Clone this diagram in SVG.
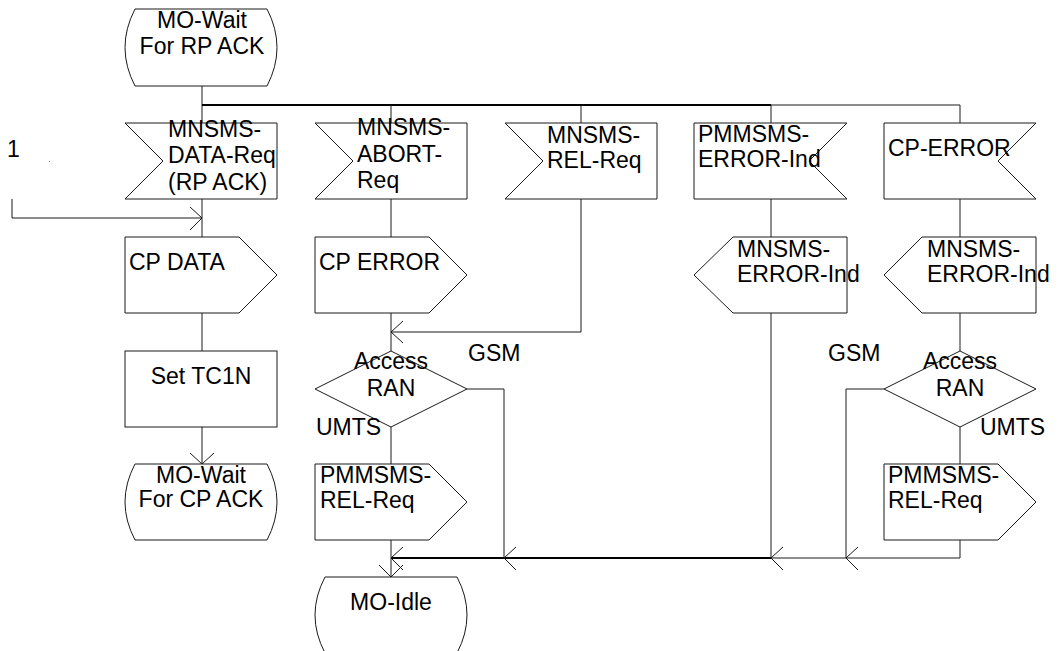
<svg xmlns="http://www.w3.org/2000/svg" width="1059" height="651" viewBox="0 0 1059 651">
<style>
.s{fill:#fff;stroke:#1a1a1a;stroke-width:1}
.c{fill:none;stroke:#1a1a1a;stroke-width:1}
.b{fill:none;stroke:#000;stroke-width:2}
.a{fill:none;stroke:#1a1a1a;stroke-width:1}
text{font-family:"Liberation Sans",Arial,sans-serif;font-size:23px;fill:#000}
.m{text-anchor:middle}
</style>
<rect width="1059" height="651" fill="#fff"/>
<g id="connectors">
<path class="c" d="M202,86V123"/>
<path class="b" d="M202,105H771"/>
<path class="c" d="M771,105H960V123"/>
<path class="c" d="M391,105V123M581,105V123M771,105V123"/>
<path class="c" d="M12,199V218H202"/>
<path class="c" d="M202,199V237M202,313V351M202,427V464"/>
<path class="c" d="M391,199V237M391,313V351M391,427V464M391,540V577"/>
<path class="c" d="M581,199V332H391"/>
<path class="c" d="M467,389H504V558"/>
<path class="b" d="M391,558H771"/>
<path class="c" d="M771,558H960V540"/>
<path class="c" d="M771,199V237M771,313V558"/>
<path class="c" d="M960,199V237M960,313V351M960,427V464"/>
<path class="c" d="M884,389H846V558"/>
<path class="a" d="M190,207L202,218L190,230"/>
<path class="a" d="M190,453L202,464L214,453"/>
<path class="a" d="M403,321L391,332L403,343"/>
<path class="a" d="M403,547L391,558L403,570"/>
<path class="a" d="M379,565L391,577L403,565"/>
<path class="a" d="M516,547L504,558L516,570"/>
<path class="a" d="M783,547L771,558L783,570"/>
<path class="a" d="M858,547L846,558L858,570"/>
</g>
<g id="state-wait-rp">
<path class="s" d="M135,9H267Q287,47.5 267,86H135Q115,47.5 135,9Z"/>
<text class="m" x="202" y="28">MO-Wait</text>
<text class="m" x="202" y="54">For RP ACK</text>
</g>
<g id="label-1"><text x="7" y="157">1</text><rect x="49" y="161" width="1" height="1" fill="#888"/></g>
<g id="in-data-req">
<polygon class="s" points="125,123 277,123 277,199 125,199 163,161"/>
<text x="168" y="137">MNSMS-</text>
<text x="168" y="163">DATA-Req</text>
<text x="168" y="190">(RP ACK)</text>
</g>
<g id="in-abort-req">
<polygon class="s" points="315,123 467,123 467,199 315,199 353,161"/>
<text x="357" y="135">MNSMS-</text>
<text x="357" y="162">ABORT-</text>
<text x="357" y="188">Req</text>
</g>
<g id="in-rel-req">
<polygon class="s" points="505,123 657,123 657,199 505,199 543,161"/>
<text x="547" y="143">MNSMS-</text>
<text x="547" y="168">REL-Req</text>
</g>
<g id="in-pmm-error">
<polygon class="s" points="694,123 847,123 809,161 847,199 694,199"/>
<text x="698" y="142">PMMSMS-</text>
<text x="698" y="167">ERROR-Ind</text>
</g>
<g id="in-cp-error">
<polygon class="s" points="884,123 1036,123 998,161 1036,199 884,199"/>
<text x="888" y="156">CP-ERROR</text>
</g>
<g id="out-cp-data">
<polygon class="s" points="125,237 239,237 277,275 239,313 125,313"/>
<text x="129" y="270">CP DATA</text>
</g>
<g id="out-cp-error">
<polygon class="s" points="315,237 429,237 467,275 429,313 315,313"/>
<text x="319" y="270">CP ERROR</text>
</g>
<g id="out-err-ind-1">
<polygon class="s" points="733,237 847,237 847,313 733,313 694,275"/>
<text x="737" y="257">MNSMS-</text>
<text x="737" y="282">ERROR-Ind</text>
</g>
<g id="out-err-ind-2">
<polygon class="s" points="922,237 1036,237 1036,313 922,313 884,275"/>
<text x="927" y="257">MNSMS-</text>
<text x="927" y="282">ERROR-Ind</text>
</g>
<g id="task-set-tc1n">
<rect class="s" x="125" y="351" width="152" height="76"/>
<text class="m" x="201" y="384">Set TC1N</text>
</g>
<g id="dec-ran-1">
<polygon class="s" points="315,389 391,351 467,389 391,427"/>
<text class="m" x="391" y="369">Access</text>
<text class="m" x="391" y="396">RAN</text>
</g>
<g id="dec-ran-2">
<polygon class="s" points="884,389 960,351 1036,389 960,427"/>
<text class="m" x="960" y="369">Access</text>
<text class="m" x="960" y="396">RAN</text>
</g>
<g id="labels">
<text x="468" y="361">GSM</text>
<text x="316" y="435">UMTS</text>
<text x="828" y="361">GSM</text>
<text x="980" y="435">UMTS</text>
</g>
<g id="out-rel-req-1">
<polygon class="s" points="315,464 429,464 467,502 429,540 315,540"/>
<text x="320" y="483">PMMSMS-</text>
<text x="320" y="508">REL-Req</text>
</g>
<g id="out-rel-req-2">
<polygon class="s" points="884,464 998,464 1036,502 998,540 884,540"/>
<text x="888" y="483">PMMSMS-</text>
<text x="888" y="508">REL-Req</text>
</g>
<g id="state-wait-cp">
<path class="s" d="M135,464H267Q287,502 267,540H135Q115,502 135,464Z"/>
<text class="m" x="201" y="483">MO-Wait</text>
<text class="m" x="201" y="507">For CP ACK</text>
</g>
<g id="state-idle">
<path class="s" d="M325,577H457Q477,615 457,653H325Q305,615 325,577Z"/>
<text class="m" x="391" y="610">MO-Idle</text>
</g>
</svg>
